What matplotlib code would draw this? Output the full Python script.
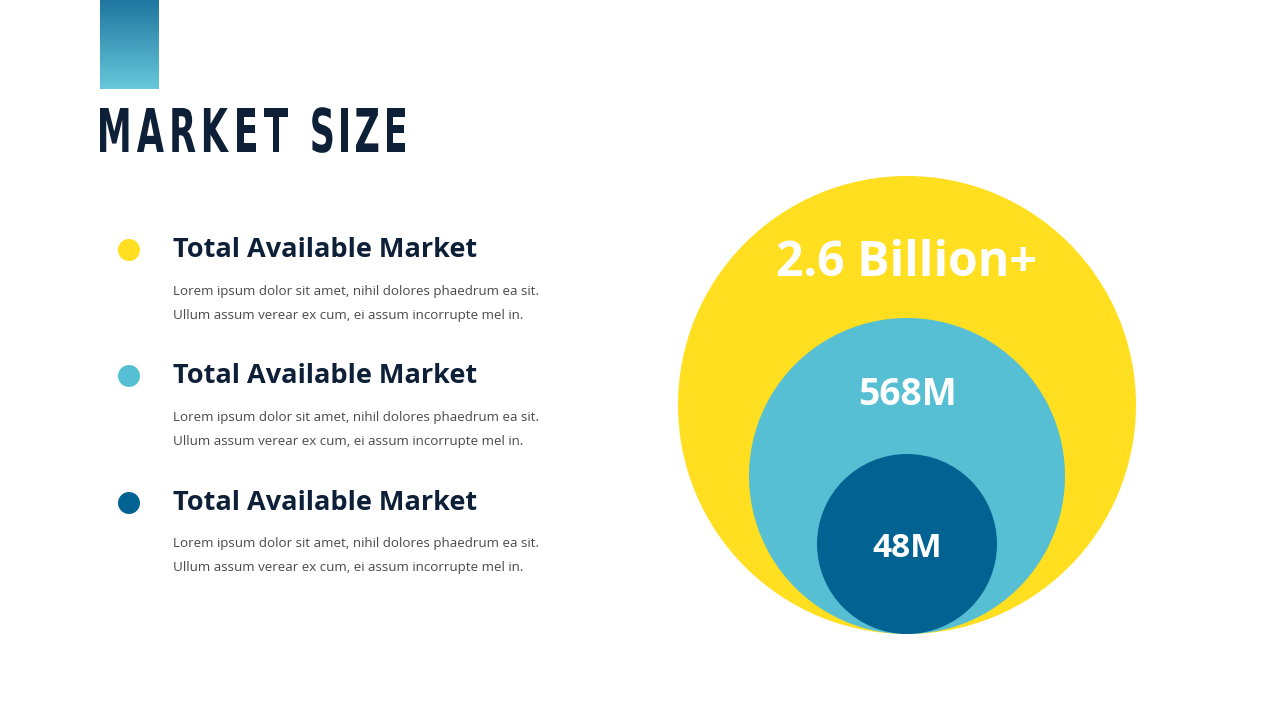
import matplotlib
matplotlib.use("Agg")
import matplotlib.pyplot as plt
import numpy as np
from matplotlib.patches import Circle, PathPatch
from matplotlib.textpath import TextPath
from matplotlib.font_manager import FontProperties
from matplotlib.transforms import Affine2D
from matplotlib.colors import LinearSegmentedColormap

# data
title = "MARKET SIZE"
headings = ["Total Available Market", "Total Available Market", "Total Available Market"]
body_lines = ["Lorem ipsum dolor sit amet, nihil dolores phaedrum ea sit.",
              "Ullum assum verear ex cum, ei assum incorrupte mel in."]
dot_colors = ["#FFDF20", "#57BFD3", "#026392"]
circle_labels = ["2.6 Billion+", "568M", "48M"]
circle_radius = [229, 158, 90]
label_sizes = [34.7, 26.8, 24]

dark = "#0E2038"

fig = plt.figure(figsize=(12.8, 7.2), dpi=100)
ax = fig.add_axes([0, 0, 1, 1])
ax.set_xlim(0, 1280)
ax.set_ylim(720, 0)
ax.set_aspect("equal")
ax.axis("off")

# gradient bar at the top
cmap = LinearSegmentedColormap.from_list("bar", ["#1F76A0", "#66C8DA"])
grad = np.linspace(0, 1, 100).reshape(-1, 1)
ax.imshow(grad, cmap=cmap, extent=[100, 159, 89, 0], aspect="auto", zorder=1)

# title, drawn as condensed glyphs with tracking
fp = FontProperties(family="DejaVu Sans", weight="bold")
paths = []
for ch in title:
    if ch == " ":
        paths.append(None)
        continue
    paths.append(TextPath((0, 0), ch, size=100, prop=fp))
cap = TextPath((0, 0), "H", size=100, prop=fp).get_extents().height
sy = 44 / cap
gap = 8.5
space = 16
widths = [p.get_extents().width if p is not None else 0 for p in paths]
n_gaps = sum(1 for p in paths if p is not None) - 1
total_target = 305
sx = (total_target - gap * n_gaps - space) / sum(widths)
x = 100
for p, w in zip(paths, widths):
    if p is None:
        x += space
        continue
    ext = p.get_extents()
    tr = Affine2D().translate(-ext.x0, 0).scale(sx, -sy).translate(x, 152)
    ax.add_patch(PathPatch(tr.transform_path(p), color=dark, lw=0, zorder=3))
    x += w * sx + gap

# left list
ys = [250, 376, 503]
for y, h, c in zip(ys, headings, dot_colors):
    ax.add_patch(Circle((129, y), 11, color=c, lw=0))
    ax.text(173, y, h, fontsize=19.5, fontweight="bold", family="Open Sans",
            color=dark, va="center", ha="left")
    for k, line in enumerate(body_lines):
        ax.text(173, y + 41 + 24 * k, line, fontsize=9.6, family="Open Sans",
                color="#4A4A4A", va="center", ha="left")

# nested circles, all touching at the bottom
cx, bottom = 907, 634
for r, c in zip(circle_radius, dot_colors):
    ax.add_patch(Circle((cx, bottom - r), r, color=c, lw=0, zorder=2))

label_base = [276, 405, 557]
for lab, ly, fs in zip(circle_labels, label_base, label_sizes):
    ax.text(cx, ly, lab, fontsize=fs, fontweight="bold", family="Open Sans",
            color="white", ha="center", va="baseline", zorder=4)

fig.savefig("out.png", dpi=100, facecolor="white")
